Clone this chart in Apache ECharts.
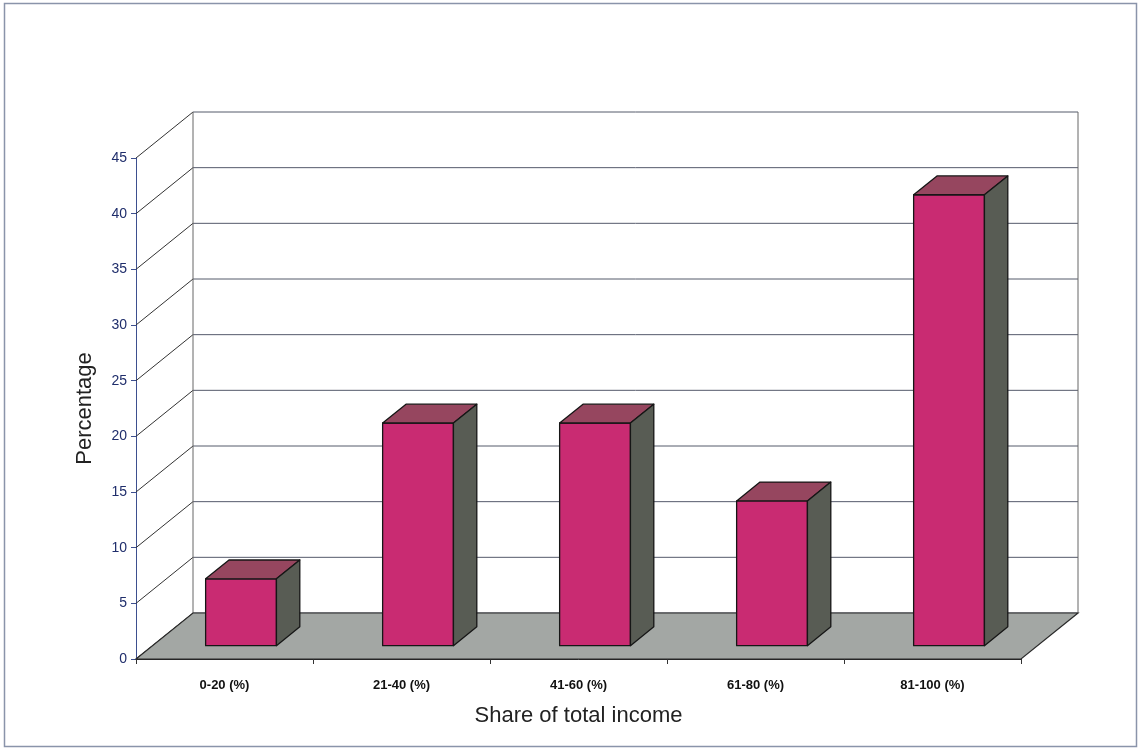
<!DOCTYPE html>
<html>
<head>
<meta charset="utf-8">
<script src="https://cdn.jsdelivr.net/npm/echarts@6/dist/echarts.min.js"></script>
<style>
  html, body { margin: 0; padding: 0; background: #fff; }
  #chart { width: 1140px; height: 751px; }
</style>
</head>
<body>
<div id="chart"></div>
<script>
// income share chart, drawn as excel-like 3d columns

const categories = ['0-20 (%)', '21-40 (%)', '41-60 (%)', '61-80 (%)', '81-100 (%)'];
const percentages = [6, 20, 20, 13, 40.5];
const yTicks = [0, 5, 10, 15, 20, 25, 30, 35, 40, 45];

// oblique depth of the box (px), bar placement inside the depth
const DEPTH = [57, -46];
const BAR_POS = 0.29;
const BAR_DEPTH = 0.41;
const BAR_WIDTH = 0.40;

const chart = echarts.init(document.getElementById('chart'));

// back wall gridlines + left wall diagonals
function renderWalls(params, api) {
    const v = api.value(1);
    const y = api.coord([0, v])[1];
    const cs = params.coordSys;
    const xl = cs.x, xr = cs.x + cs.width;
    return {
        type: 'group',
        children: [{
            type: 'line',
            shape: { x1: xl, y1: y, x2: xl + DEPTH[0], y2: y + DEPTH[1] },
            style: { stroke: '#333', lineWidth: 1 }
        }, {
            type: 'line',
            shape: { x1: xl + DEPTH[0], y1: y + DEPTH[1], x2: xr + DEPTH[0], y2: y + DEPTH[1] },
            style: { stroke: '#555a6b', lineWidth: 1 }
        }]
    };
}

// grey floor and wall edges
function renderFloor(params, api) {
    const cs = params.coordSys;
    const xl = cs.x, xr = cs.x + cs.width;
    const y0 = api.coord([0, 0])[1];
    const yTop = api.coord([0, yTicks[yTicks.length - 1]])[1];
    return {
        type: 'group',
        children: [{
            type: 'line',
            shape: { x1: xl + DEPTH[0], y1: y0 + DEPTH[1], x2: xl + DEPTH[0], y2: yTop + DEPTH[1] },
            style: { stroke: '#666', lineWidth: 1 }
        }, {
            type: 'line',
            shape: { x1: xr + DEPTH[0], y1: y0 + DEPTH[1], x2: xr + DEPTH[0], y2: yTop + DEPTH[1] },
            style: { stroke: '#666', lineWidth: 1 }
        }, {
            type: 'polygon',
            shape: {
                points: [[xl, y0], [xr, y0], [xr + DEPTH[0], y0 + DEPTH[1]], [xl + DEPTH[0], y0 + DEPTH[1]]]
            },
            style: { fill: '#a3a7a4', stroke: '#2b2b2b', lineWidth: 1.2 }
        }]
    };
}

// one 3d column: front, top, side
function renderBar(params, api) {
    const i = api.value(0);
    const v = api.value(1);
    const base = api.coord([i, 0]);
    const top = api.coord([i, v]);
    const band = api.size([1, 0])[0];
    const w = band * BAR_WIDTH;
    const ox = DEPTH[0] * BAR_POS, oy = DEPTH[1] * BAR_POS;
    const dx = DEPTH[0] * BAR_DEPTH, dy = DEPTH[1] * BAR_DEPTH;
    const x0 = base[0] + ox - w / 2, x1 = x0 + w;
    const yb = base[1] + oy, yt = top[1] + oy;
    const edge = { stroke: '#161616', lineWidth: 1.3, lineJoin: 'round' };
    return {
        type: 'group',
        children: [{
            type: 'polygon',
            shape: { points: [[x0, yt], [x1, yt], [x1, yb], [x0, yb]] },
            style: Object.assign({ fill: '#c92b72' }, edge)
        }, {
            type: 'polygon',
            shape: { points: [[x0, yt], [x0 + dx, yt + dy], [x1 + dx, yt + dy], [x1, yt]] },
            style: Object.assign({ fill: '#96465f' }, edge)
        }, {
            type: 'polygon',
            shape: { points: [[x1, yt], [x1 + dx, yt + dy], [x1 + dx, yb + dy], [x1, yb]] },
            style: Object.assign({ fill: '#585c54' }, edge)
        }]
    };
}

const option = {
    animation: false,
    backgroundColor: '#ffffff',
    textStyle: { fontFamily: 'Liberation Sans, Arial, sans-serif' },
    graphic: [{
        type: 'rect',
        shape: { x: 4.5, y: 3.5, width: 1132, height: 743 },
        style: { fill: 'none', stroke: '#8a94aa', lineWidth: 1.5 },
        silent: true
    }],
    grid: { left: 136, right: 119, top: 158, bottom: 92 },
    xAxis: {
        type: 'category',
        data: categories,
        boundaryGap: true,
        axisLine: { show: true, lineStyle: { color: '#222', width: 1 } },
        axisTick: { show: true, length: 5, lineStyle: { color: '#333' } },
        axisLabel: { color: '#111', fontSize: 13, fontWeight: 'bold', margin: 20 },
        splitLine: { show: false },
        name: 'Share of total income',
        nameLocation: 'middle',
        nameGap: 46,
        nameTextStyle: { color: '#222', fontSize: 22 }
    },
    yAxis: {
        type: 'value',
        min: 0,
        max: 45,
        interval: 5,
        axisLine: { show: true, lineStyle: { color: '#3d4f8f', width: 1 } },
        axisTick: { show: true, length: 5, lineStyle: { color: '#3d4f8f' } },
        axisLabel: { color: '#1f2d6b', fontSize: 14, margin: 9 },
        splitLine: { show: false },
        name: 'Percentage',
        nameLocation: 'middle',
        nameGap: 40,
        nameTextStyle: { color: '#222', fontSize: 22 }
    },
    series: [{
        type: 'custom',
        name: 'walls',
        z: 1,
        clip: false,
        silent: true,
        renderItem: renderWalls,
        data: yTicks.map(t => [0, t])
    }, {
        type: 'custom',
        name: 'floor',
        z: 2,
        clip: false,
        silent: true,
        renderItem: renderFloor,
        data: [[0, 0]]
    }, {
        type: 'custom',
        name: 'Percentage',
        z: 3,
        clip: false,
        renderItem: renderBar,
        data: percentages.map((v, i) => [i, v])
    }]
};

chart.setOption(option);
</script>
</body>
</html>
